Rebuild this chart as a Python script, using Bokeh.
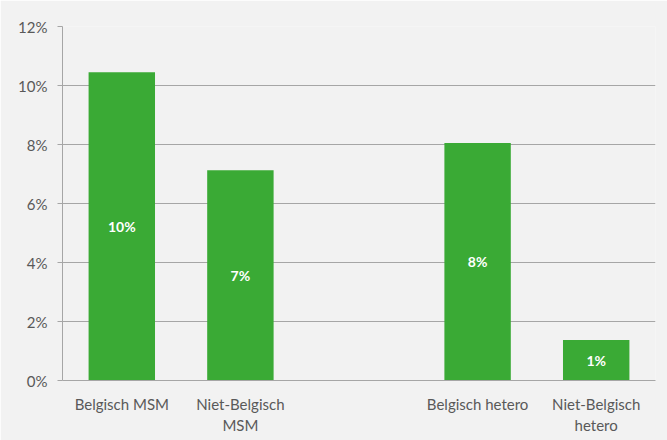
from bokeh.plotting import figure
from bokeh.models import ColumnDataSource, FactorRange, Range1d, FixedTicker, PrintfTickFormatter, LabelSet
from bokeh.core.properties import value
from bokeh.embed import file_html
from bokeh.resources import INLINE

categories = ["Belgisch MSM", "Niet-Belgisch\nMSM", " ", "Belgisch hetero", "Niet-Belgisch\nhetero"]
bar_categories = ["Belgisch MSM", "Niet-Belgisch\nMSM", "Belgisch hetero", "Niet-Belgisch\nhetero"]
values = [10.45, 7.13, 8.05, 1.37]
labels = ["10%", "7%", "8%", "1%"]
y_ticks = [0, 2, 4, 6, 8, 10, 12]

src = ColumnDataSource(dict(x=bar_categories, top=values, mid=[v / 2 for v in values], label=labels))

p = figure(x_range=FactorRange(*categories, range_padding=0), y_range=Range1d(0, 12),
           width=667, height=440, output_backend="svg", toolbar_location=None,
           min_border_left=62, min_border_right=12, min_border_top=26, min_border_bottom=60)
p.background_fill_color = "#f2f2f2"
p.border_fill_color = "#f2f2f2"
p.outline_line_color = None

p.vbar(x="x", top="top", width=0.56, source=src, color="#3aaa35", line_color=None)

p.add_layout(LabelSet(x="x", y="mid", text="label", source=src, text_color="white",
                      text_font=value("Lato"), text_font_style="bold", text_font_size="14px",
                      text_align="center", text_baseline="middle"))

p.xgrid.grid_line_color = None
p.ygrid.grid_line_color = "#a6a6a6"
p.ygrid.grid_line_width = 1
p.yaxis.ticker = FixedTicker(ticks=y_ticks)
p.yaxis.formatter = PrintfTickFormatter(format="%d%%")
p.yaxis.axis_line_color = "#a6a6a6"
p.yaxis.major_tick_line_color = "#a6a6a6"
p.yaxis.major_tick_out = 5
p.yaxis.major_tick_in = 0
p.yaxis.minor_tick_line_color = None
p.yaxis.major_label_standoff = 10
p.xaxis.axis_line_color = "#a6a6a6"
p.xaxis.major_tick_line_color = None
p.xaxis.minor_tick_line_color = None
p.xaxis.major_label_standoff = 8
for ax in (p.xaxis, p.yaxis):
    ax.major_label_text_font = "Lato"
    ax.major_label_text_font_size = "15px"
    ax.major_label_text_color = "#595959"

open("out.html", "w").write(file_html(p, INLINE))
